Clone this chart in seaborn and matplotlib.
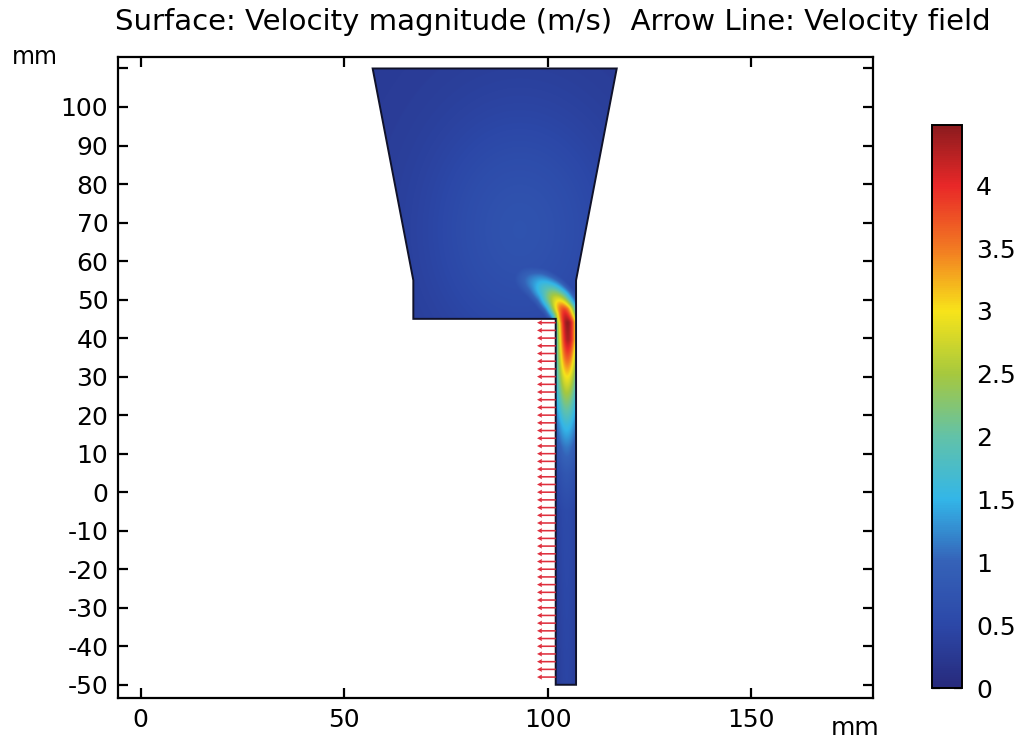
import numpy as np
import matplotlib
matplotlib.use("Agg")
import matplotlib.pyplot as plt
import seaborn as sns
from matplotlib.patches import Polygon
from matplotlib.colors import LinearSegmentedColormap

# ---------------- data ----------------
title = "Surface: Velocity magnitude (m/s)  Arrow Line: Velocity field"
axis_unit = "mm"

# domain outline (mm)
geom_x = [57, 117, 107, 107, 102, 102, 67, 67]
geom_y = [110, 110, 55, -50, -50, 45, 45, 55]

x_ticks = [0, 50, 100, 150]
y_ticks = [-50, -40, -30, -20, -10, 0, 10, 20, 30, 40, 50, 60, 70, 80, 90, 100, 110]
y_tick_labels = ["-50", "-40", "-30", "-20", "-10", "0", "10", "20", "30", "40",
                 "50", "60", "70", "80", "90", "100", ""]

cbar_ticks = [0, 0.5, 1, 1.5, 2, 2.5, 3, 3.5, 4]
cbar_labels = ["0", "0.5", "1", "1.5", "2", "2.5", "3", "3.5", "4"]
vmin, vmax = 0.0, 4.48

cmap_pos = [0.0, 0.5, 1.0, 1.5, 2.0, 2.5, 3.0, 3.5, 4.0, 4.48]
cmap_colors = ["#272a7c", "#2c48a8", "#3562b8", "#33b6e8", "#62c2a8",
               "#a6c83e", "#f7e41a", "#f27a22", "#e92828", "#8c1b1e"]

# jet centre line (mm), velocity magnitude (m/s) and spread (mm) read along it
jet_x = [95.0, 97.8, 100.2, 102.3, 103.9, 104.7, 104.8, 104.7, 104.6, 104.5, 104.5, 104.5, 104.5, 104.5, 104.5]
jet_y = [55.2, 53.8, 51.8, 49.4, 46.8, 43.8, 39.5, 35.0, 30.0, 24.0, 18.0, 12.0, 5.0, -5.0, -52.0]
jet_v = [1.0, 1.45, 2.0, 2.9, 3.9, 4.45, 4.3, 3.7, 3.0, 2.3, 1.65, 1.15, 0.8, 0.55, 0.45]
jet_w = [3.5, 3.4, 3.1, 2.7, 2.3, 2.2, 2.2, 2.3, 2.5, 2.6, 2.7, 2.8, 2.8, 2.8, 2.8]

# reservoir bulk flow
bulk_base, bulk_peak = 0.3, 0.72
bulk_x, bulk_y, bulk_sx, bulk_sy = 93, 68, 16, 22

# arrow line (inlet boundary velocity arrows)
arrow_y = list(range(-48, 45, 2))
arrow_x0, arrow_len = 102.0, -4.6

# ---------------- field ----------------
gx = np.linspace(55, 119, 641)
gy = np.linspace(-52, 112, 1641)
X, Y = np.meshgrid(gx, gy)

bulk = bulk_base + (bulk_peak - bulk_base) * np.exp(
    -0.5 * (((X - bulk_x) / bulk_sx) ** 2 + ((Y - bulk_y) / bulk_sy) ** 2))

# sweep a soft brush along the jet centre line (arc-length resampled)
jx, jy = np.array(jet_x), np.array(jet_y)
seg = np.hypot(np.diff(jx), np.diff(jy))
s = np.concatenate([[0], np.cumsum(seg)])
ss = np.linspace(0, s[-1], 700)
px, py = np.interp(ss, s, jx), np.interp(ss, s, jy)
pv, pw = np.interp(ss, s, jet_v), np.interp(ss, s, jet_w)

sub = (X > 84) & (X < 112) & (Y < 66)
Xs, Ys = X[sub], Y[sub]
jet_s = np.zeros_like(Xs)
for i in range(len(ss)):
    d2 = (Xs - px[i]) ** 2 + (Ys - py[i]) ** 2
    np.maximum(jet_s, pv[i] * np.exp(-0.5 * d2 / pw[i] ** 2), out=jet_s)
jet = np.zeros_like(X)
jet[sub] = jet_s

field = np.maximum(bulk, jet)
field = np.clip(field, vmin, vmax)

cmap = LinearSegmentedColormap.from_list(
    "comsol_rainbow", list(zip(np.array(cmap_pos) / vmax, cmap_colors)))

# ---------------- figure ----------------
sns.set_theme(style="ticks")
plt.rcParams["font.family"] = ["DejaVu Sans"]
plt.rcParams["axes.linewidth"] = 1.6
for k in ["text.color", "axes.labelcolor", "xtick.color", "ytick.color", "axes.edgecolor"]:
    plt.rcParams[k] = "black"

fig = plt.figure(figsize=(10.35, 7.44), dpi=100)
ax = fig.add_axes([0.114, 0.062, 0.7295, 0.8615])

im = ax.imshow(field, extent=[gx[0], gx[-1], gy[0], gy[-1]], origin="lower",
               cmap=cmap, vmin=vmin, vmax=vmax, interpolation="bilinear", aspect="auto")
poly = Polygon(np.column_stack([geom_x, geom_y]), closed=True, transform=ax.transData)
im.set_clip_path(poly)
ax.add_patch(Polygon(np.column_stack([geom_x, geom_y]), closed=True, fill=False,
                     edgecolor="#10122a", linewidth=1.4, zorder=2))

n = len(arrow_y)
ax.quiver(np.full(n, arrow_x0), np.array(arrow_y, dtype=float), np.full(n, arrow_len), np.zeros(n),
          angles="xy", scale_units="xy", scale=1, color="#df2f3d", width=0.0021,
          headwidth=3.2, headlength=3.2, headaxislength=2.9, zorder=3)

ax.set_xlim(-5.6, 180)
ax.set_ylim(-53.4, 113)
ax.set_xticks(x_ticks)
ax.set_xticklabels([str(v) for v in x_ticks])
ax.set_yticks(y_ticks)
ax.set_yticklabels(y_tick_labels)
ax.tick_params(direction="in", length=7, width=1.6, top=True, right=True,
               labelsize=18, colors="black", pad=7)
for sp in ax.spines.values():
    sp.set_color("black")

fig.text(35 / 1035, 1 - 57 / 744, axis_unit, fontsize=17, ha="center", va="center")
fig.text(855 / 1035, 1 - 728 / 744, axis_unit, fontsize=18, ha="center", va="center")
fig.text(553 / 1035, 1 - 22 / 744, title, fontsize=21, ha="center", va="center")

cax = fig.add_axes([932 / 1035, 1 - 688 / 744, 30 / 1035, (688 - 125) / 744])
cb = fig.colorbar(im, cax=cax, ticks=cbar_ticks)
cb.set_ticklabels(cbar_labels)
cb.outline.set_linewidth(1.4)
cb.outline.set_edgecolor("black")
cax.tick_params(direction="in", length=6, width=1.6, left=True, right=True,
                labelsize=18, pad=10)

fig.savefig("out.png", dpi=100)
